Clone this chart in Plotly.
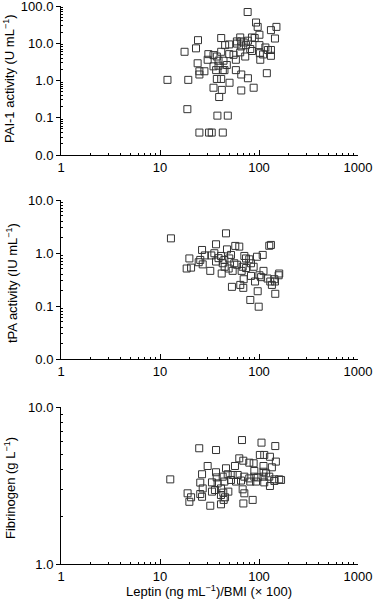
import plotly.graph_objects as go

# ---------- data ----------
pai_leptin = [76.8, 93.3, 97, 150, 132, 145, 101, 41.5, 64.6, 84.9, 90.4, 24.2, 23.1, 17.7,
              45.5, 50, 59.8, 66.2, 77.3, 66.2, 73.8, 81.6, 101, 116, 132, 102, 123, 132, 103,
              41.5, 50, 55.3, 64.6, 72.6, 58.4, 30.8, 34.7, 30.3, 37.5, 39, 43.8, 47.3, 34.7,
              39, 24, 43.1, 44.8, 36.9, 58.4, 66.2, 77.3, 25, 28.1, 25, 11.9, 19.3, 37.5, 41.5,
              50.4, 120, 34.7, 42.1, 66.2, 88.3, 39.6, 18.9, 38, 48.4, 25, 31.3, 33.3, 43.1,
              60, 70, 85, 110]
pai_activity = [69, 36, 27.5, 27.5, 22.5, 13.4, 16.9, 13.8, 14.3, 14.3, 13.8, 12.1, 7.3, 5.9,
                8.9, 9.3, 11.2, 11.2, 11.7, 8.2, 8.9, 7.0, 8.9, 7.7, 6.6, 5.4, 6.6, 4.6, 3.6,
                5.9, 5.1, 4.9, 5.7, 4.4, 3.6, 5.1, 4.8, 3.6, 4.4, 3.4, 3.4, 2.6, 2.4,
                2.5, 2.9, 1.9, 1.9, 1.9, 1.9, 1.45, 1.15, 1.77, 1.77, 1.45, 1.04, 1.04, 1.1, 1.1,
                0.87, 1.57, 0.64, 0.56, 0.54, 0.64, 0.36, 0.17, 0.114, 0.114, 0.04, 0.04, 0.04, 0.04,
                9.8, 10.5, 6.2, 5.0]

tpa_leptin = [12.9, 46.4, 127, 132, 36.8, 57.6, 63.2, 26.6, 19.8, 18.6, 20.6, 25.5, 24.6, 27,
              32.2, 35.4, 36.8, 41.3, 44.7, 43, 47.5, 50.1, 52.1, 56.3, 49.4, 54.2, 42,
              71.1, 73.9, 79.8, 83, 95.4, 109, 66.8, 68.4, 88.3, 111, 83, 70, 91.2, 105, 101,
              122, 130, 143, 158, 160, 53.3, 64.7, 69.4, 97, 81.7, 99.3, 146, 135, 145,
              28.4, 33, 39, 60, 45, 74]
tpa_activity = [1.89, 2.35, 1.37, 1.42, 1.46, 1.36, 1.32, 1.14, 0.79, 0.51, 0.53, 0.74, 0.67, 0.61,
                0.46, 0.99, 0.69, 0.88, 0.74, 0.64, 1.17, 0.79, 0.92, 0.64, 0.51, 0.46, 0.41,
                0.88, 0.79, 0.76, 0.64, 0.85, 0.92, 0.46, 0.55, 0.55, 0.46, 0.37, 0.32, 0.29, 0.35, 0.38,
                0.33, 0.29, 0.32, 0.38, 0.41, 0.23, 0.25, 0.22, 0.19, 0.13, 0.097, 0.17, 0.25, 0.29,
                0.9, 0.9, 0.8, 0.6, 0.55, 0.52]

fib_leptin = [12.7, 24.9, 36.8, 67.3, 106, 146, 102, 113, 129, 148, 63.2, 69.4, 79.8, 88.3,
              111, 135, 46.4, 57.2, 30.3, 26.6, 36.8, 37.4, 43, 48.3, 54.2, 60.9, 71.1, 79.8,
              89.7, 97, 111, 127, 143, 160, 167, 118, 111, 89.7, 33.5, 38.2, 44.7, 52.1, 58.6,
              65.8, 81.7, 93.3, 113, 129, 143, 25.5, 27, 33.5, 35.9, 41.3, 43.6, 49, 19, 20.6,
              19.8, 25.5, 26.6, 41.3, 45.4, 44, 68.4, 71.1, 86.3, 69.5, 32.2, 41.3]
fibrinogen = [3.46, 5.46, 5.32, 6.16, 5.93, 5.64, 4.95, 4.95, 4.82, 4.49, 4.71, 4.55, 4.42, 4.38,
              4.21, 4.13, 4.07, 4.21, 4.21, 3.73, 3.84, 3.56, 3.60, 3.73, 3.69, 3.69, 3.60, 3.51,
              3.60, 3.56, 3.60, 3.60, 3.46, 3.46, 3.43, 3.78, 3.87, 3.91, 3.31, 3.26, 3.35, 3.43, 3.35,
              3.40, 3.35, 3.35, 3.31, 3.14, 3.38, 3.30, 3.03, 2.89, 2.96, 3.03, 2.85, 2.89, 2.82, 2.66,
              2.49, 2.79, 2.68, 2.75, 2.66, 2.56, 2.99, 2.82, 2.56, 2.43, 2.35, 2.40]

x_tickvals = [1, 10, 100, 1000]
x_ticktext = ["1", "10", "100", "1000"]
pai_tickvals = [0.01, 0.1, 1, 10, 100]
pai_ticktext = ["0.0", "0.1", "1.0", "10.0", "100.0"]
tpa_tickvals = [0.01, 0.1, 1, 10]
tpa_ticktext = ["0.0", "0.1", "1.0", "10.0"]
fib_tickvals = [1, 10]
fib_ticktext = ["1.0", "10.0"]

x_title = "Leptin (ng mL<sup>−1</sup>)/BMI (× 100)"
pai_title = "PAI-1 activity (U mL<sup>−1</sup>)"
tpa_title = "tPA activity (IU mL<sup>−1</sup>)"
fib_title = "Fibrinogen (g L<sup>−1</sup>)"

# ---------- layout geometry ----------
W, H = 373, 606
L, R, T, B = 61, 15, 6, 42
ph = H - T - B
pw = W - L - R

def ydom(top_px, bot_px):
    return [(H - B - bot_px) / ph, (H - B - top_px) / ph]

def minor_vals(lo_exp, hi_exp):
    return [m * 10 ** e for e in range(lo_exp, hi_exp) for m in range(2, 10)]

FONT = "Liberation Sans, Arial, Helvetica, sans-serif"
FS = 13
marker = dict(symbol="square-open", size=7, color="#333333", line=dict(width=1, color="#333333"))

fig = go.Figure()
panels = [
    (pai_leptin, pai_activity, "y", "x"),
    (tpa_leptin, tpa_activity, "y2", "x2"),
    (fib_leptin, fibrinogen, "y3", "x3"),
]
for xs, ys, ya, xa in panels:
    fig.add_trace(go.Scatter(x=xs, y=ys, mode="markers", marker=marker,
                             xaxis=xa, yaxis=ya, showlegend=False, hoverinfo="skip"))

doms = [ydom(6, 155), ydom(200, 359), ydom(407, 564)]
yspecs = [
    (pai_tickvals, pai_ticktext, [-2, 2], minor_vals(-2, 2)),
    (tpa_tickvals, tpa_ticktext, [-2, 1], minor_vals(-2, 1)),
    (fib_tickvals, fib_ticktext, [0, 1], minor_vals(0, 1)),
]

common_axis = dict(showgrid=False, zeroline=False, showline=True, linecolor="black",
                   linewidth=1, tickcolor="black", ticklabeloverflow="allow",
                   tickfont=dict(family=FONT, size=FS, color="black"))

layout = dict(width=W, height=H, margin=dict(l=L, r=R, t=T, b=B, autoexpand=False),
              paper_bgcolor="white", plot_bgcolor="white", font=dict(family=FONT, size=FS, color="black"))

for i, (dom, (tv, tt, rng, mv)) in enumerate(zip(doms, yspecs)):
    sfx = "" if i == 0 else str(i + 1)
    layout["xaxis" + sfx] = dict(common_axis, type="log", range=[0, 3], domain=[0, 1],
                                 anchor="y" + sfx, tickmode="array", tickvals=x_tickvals,
                                 ticktext=x_ticktext, ticks="inside", ticklen=5,
                                 minor=dict(tickmode="array", tickvals=minor_vals(0, 3),
                                            ticks="inside", ticklen=2, tickcolor="black"))
    layout["yaxis" + sfx] = dict(common_axis, type="log", range=rng, domain=dom,
                                 anchor="x" + sfx, tickmode="array", tickvals=tv, ticktext=tt,
                                 ticks="outside", ticklen=4,
                                 minor=dict(tickmode="array", tickvals=mv,
                                            ticks="inside", ticklen=2, tickcolor="black"))

fig.update_layout(**layout)

def px_to_paper_x(px):
    return (px - L) / pw

def px_to_paper_y(py):
    return (H - B - py) / ph

ann = [
    (pai_title, 9, 79),
    (tpa_title, 12, 283),
    (fib_title, 10, 488),
]
for text, xp, yp in ann:
    fig.add_annotation(text=text, xref="paper", yref="paper", x=px_to_paper_x(xp),
                       y=px_to_paper_y(yp), xanchor="center", yanchor="middle",
                       textangle=-90, showarrow=False, font=dict(family=FONT, size=FS, color="black"))
fig.add_annotation(text=x_title, xref="paper", yref="paper", x=px_to_paper_x(209),
                   y=px_to_paper_y(591), xanchor="center", yanchor="middle",
                   showarrow=False, font=dict(family=FONT, size=FS, color="black"))

fig.write_html("out.html", config={"displayModeBar": False},
               post_script="document.body.style.margin='0';document.body.style.overflow='hidden';")
